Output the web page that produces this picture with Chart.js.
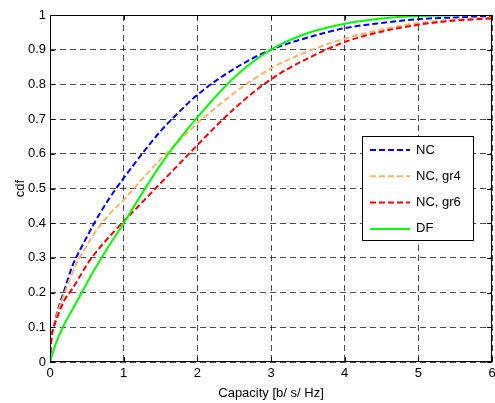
<!DOCTYPE html>
<html>
<head>
<meta charset="utf-8">
<script src="https://cdn.jsdelivr.net/npm/chart.js@4"></script>
<style>
  html, body { margin: 0; padding: 0; background: #fff; }
  #wrap { width: 495px; height: 403px; }
</style>
</head>
<body>
<div id="wrap"><canvas id="chart" width="495" height="403"></canvas></div>
<script>
// capacity values (b/s/Hz) where the cdf was read
const capacity = [0, 0.02, 0.05, 0.1, 0.2, 0.3, 0.4, 0.5, 0.6, 0.8, 1, 1.25, 1.5, 1.75, 2, 2.5, 3, 3.5, 4, 4.5, 5, 5.5, 6];

const cdfNC    = [0, 0.07, 0.10, 0.145, 0.21, 0.275, 0.32, 0.36, 0.40, 0.47, 0.53, 0.60, 0.665, 0.72, 0.77, 0.845, 0.90, 0.935, 0.962, 0.977, 0.988, 0.993, 0.997];
const cdfNCgr4 = [0, 0.07, 0.10, 0.14, 0.20, 0.255, 0.30, 0.335, 0.37, 0.425, 0.467, 0.527, 0.584, 0.637, 0.688, 0.775, 0.846, 0.895, 0.932, 0.958, 0.977, 0.987, 0.993];
const cdfNCgr6 = [0, 0.07, 0.10, 0.13, 0.18, 0.21, 0.245, 0.28, 0.31, 0.36, 0.405, 0.46, 0.515, 0.57, 0.625, 0.73, 0.815, 0.875, 0.922, 0.952, 0.972, 0.984, 0.99];
const cdfDF    = [0, 0.014, 0.035, 0.065, 0.111, 0.15, 0.188, 0.227, 0.265, 0.335, 0.40, 0.486, 0.568, 0.64, 0.705, 0.82, 0.90, 0.948, 0.975, 0.99, 0.997, 0.999, 1.0];

const seriesNames = ['NC', 'NC, gr4', 'NC, gr6', 'DF'];

const xTicks = [0, 1, 2, 3, 4, 5, 6];
const yTicks = [0, 0.1, 0.2, 0.3, 0.4, 0.5, 0.6, 0.7, 0.8, 0.9, 1];
const yTickLabels = ['0', '0.1', '0.2', '0.3', '0.4', '0.5', '0.6', '0.7', '0.8', '0.9', '1'];

const FONT = "'Liberation Sans', Arial, Helvetica, sans-serif";
const FSIZE = 13;

const toPoints = (ys) => capacity.map((x, i) => ({ x: x, y: ys[i] }));

const lineStyle = (color, dash, order) => ({
  borderColor: color,
  backgroundColor: color,
  borderWidth: 2,
  borderDash: dash,
  pointRadius: 0,
  fill: false,
  cubicInterpolationMode: 'monotone',
  order: order,
});

const datasets = [
  Object.assign({ label: seriesNames[0], data: toPoints(cdfNC) }, lineStyle('#0000ff', [6, 3], 3)),
  Object.assign({ label: seriesNames[1], data: toPoints(cdfNCgr4) }, lineStyle('#ffb266', [6, 3], 2)),
  Object.assign({ label: seriesNames[2], data: toPoints(cdfNCgr6) }, lineStyle('#ff0000', [6, 3], 1)),
  Object.assign({ label: seriesNames[3], data: toPoints(cdfDF) }, lineStyle('#00ff00', [], 0)),
];

// box round the axes, inward tick marks and the legend box (matlab look)
const matlabFrame = {
  id: 'matlabFrame',
  afterDraw(chart) {
    const ctx = chart.ctx;
    const a = chart.chartArea;
    const xs = chart.scales.x, ys = chart.scales.y;
    const tl = 5;
    ctx.save();
    ctx.strokeStyle = '#000';
    ctx.lineWidth = 1;
    ctx.setLineDash([]);
    ctx.strokeRect(a.left + 0.5, a.top + 0.5, a.right - a.left - 1, a.bottom - a.top - 1);
    ctx.beginPath();
    xTicks.forEach(v => {
      const px = Math.round(xs.getPixelForValue(v)) + 0.5;
      ctx.moveTo(px, a.bottom); ctx.lineTo(px, a.bottom - tl);
      ctx.moveTo(px, a.top); ctx.lineTo(px, a.top + tl);
    });
    yTicks.forEach(v => {
      const py = Math.round(ys.getPixelForValue(v)) + 0.5;
      ctx.moveTo(a.left, py); ctx.lineTo(a.left + tl, py);
      ctx.moveTo(a.right, py); ctx.lineTo(a.right - tl, py);
    });
    ctx.stroke();

    // legend
    const lx = a.right - 130, ly = a.top + 121, lw = 111, lh = 104;
    ctx.fillStyle = '#fff';
    ctx.fillRect(lx, ly, lw, lh);
    ctx.strokeRect(lx + 0.5, ly + 0.5, lw, lh);
    ctx.font = FSIZE + 'px ' + FONT;
    ctx.textBaseline = 'middle';
    chart.data.datasets.forEach((ds, i) => {
      const ry = ly + 14 + i * 26.3;
      ctx.beginPath();
      ctx.strokeStyle = ds.borderColor;
      ctx.lineWidth = 2;
      ctx.setLineDash(ds.borderDash);
      ctx.moveTo(lx + 8, ry);
      ctx.lineTo(lx + 48, ry);
      ctx.stroke();
      ctx.setLineDash([]);
      ctx.fillStyle = '#000';
      ctx.fillText(ds.label, lx + 54, ry);
    });
    ctx.restore();
  }
};

new Chart(document.getElementById('chart'), {
  type: 'line',
  data: { datasets: datasets },
  options: {
    responsive: false,
    animation: false,
    layout: { padding: { top: 15, right: 3, left: 0, bottom: 0 } },
    plugins: {
      legend: { display: false },
      tooltip: { enabled: false },
    },
    scales: {
      x: {
        type: 'linear',
        min: 0,
        max: 6,
        afterFit: (s) => { s.height = 41; s.paddingLeft = 0; s.paddingRight = 0; },
        afterBuildTicks: (s) => { s.ticks = xTicks.map(v => ({ value: v })); },
        ticks: {
          color: '#000',
          padding: 4,
          maxRotation: 0,
          font: { family: FONT, size: FSIZE },
          callback: (v) => String(v),
        },
        grid: { color: 'rgba(0,0,0,0.7)', lineWidth: 1, drawTicks: false },
        border: { display: false, dash: [6, 4] },
        title: {
          display: true,
          text: 'Capacity [b/ s/ Hz]',
          color: '#000',
          font: { family: FONT, size: FSIZE },
          padding: { top: 0, bottom: 2 },
        },
      },
      y: {
        min: 0,
        max: 1,
        afterFit: (s) => { s.width = 50; s.paddingTop = 0; s.paddingBottom = 0; },
        afterBuildTicks: (s) => { s.ticks = yTicks.map(v => ({ value: v })); },
        ticks: {
          color: '#000',
          padding: 4,
          font: { family: FONT, size: FSIZE },
          callback: (v) => yTickLabels[yTicks.indexOf(v)] ?? '',
        },
        grid: { color: 'rgba(0,0,0,0.7)', lineWidth: 1, drawTicks: false },
        border: { display: false, dash: [6, 4] },
        title: {
          display: true,
          text: 'cdf',
          color: '#000',
          font: { family: FONT, size: FSIZE },
          padding: { top: 13, bottom: 0 },
        },
      },
    },
  },
  plugins: [matlabFrame],
});
</script>
</body>
</html>
